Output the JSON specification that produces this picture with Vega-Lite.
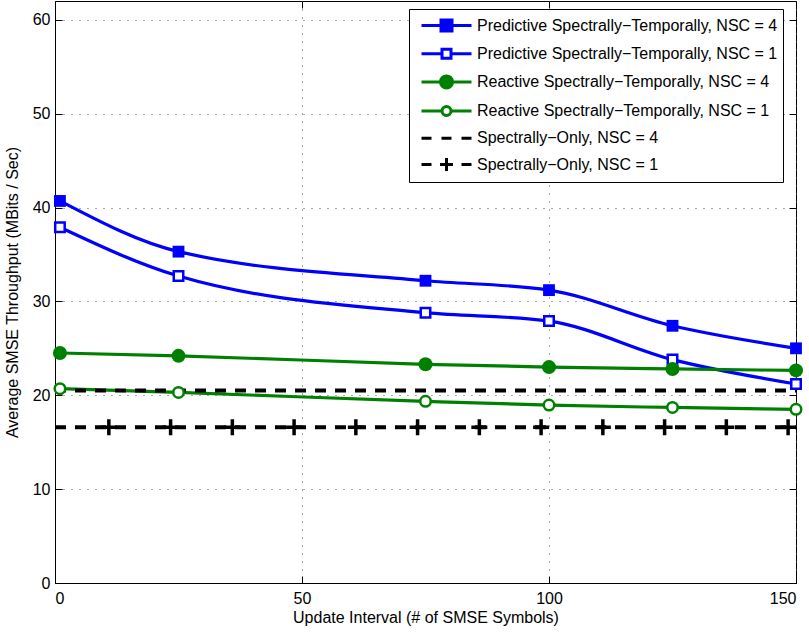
{
  "$schema": "https://vega.github.io/schema/vega-lite/v6.json",
  "width": 741,
  "height": 582,
  "autosize": {"type": "none"},
  "padding": {"left": 55, "top": 1, "right": 13, "bottom": 51},
  "background": "white",
  "config": {
    "font": "Liberation Sans",
    "view": {"stroke": "black", "strokeWidth": 1},
    "axis": {
      "labelFont": "Liberation Sans",
      "titleFont": "Liberation Sans",
      "labelFontSize": 16,
      "titleFontSize": 16,
      "titleFontWeight": "normal",
      "labelColor": "black",
      "titleColor": "black",
      "domainColor": "black",
      "tickColor": "black",
      "tickSize": -7,
      "gridColor": "#555",
      "gridDash": [1, 7],
      "gridWidth": 1
    }
  },
  "datasets": {
    "curves": [
      {"s": "P4", "x": 1, "y": 40.7}, {"s": "P4", "x": 25, "y": 35.3}, {"s": "P4", "x": 75, "y": 32.2},
      {"s": "P4", "x": 100, "y": 31.2}, {"s": "P4", "x": 125, "y": 27.4}, {"s": "P4", "x": 150, "y": 25.0},
      {"s": "P1", "x": 1, "y": 37.9}, {"s": "P1", "x": 25, "y": 32.7}, {"s": "P1", "x": 75, "y": 28.8},
      {"s": "P1", "x": 100, "y": 27.9}, {"s": "P1", "x": 125, "y": 23.8}, {"s": "P1", "x": 150, "y": 21.2},
      {"s": "R4", "x": 1, "y": 24.5}, {"s": "R4", "x": 25, "y": 24.2}, {"s": "R4", "x": 75, "y": 23.3},
      {"s": "R4", "x": 100, "y": 23.0}, {"s": "R4", "x": 125, "y": 22.8}, {"s": "R4", "x": 150, "y": 22.65},
      {"s": "R1", "x": 1, "y": 20.7}, {"s": "R1", "x": 25, "y": 20.3}, {"s": "R1", "x": 75, "y": 19.35},
      {"s": "R1", "x": 100, "y": 18.95}, {"s": "R1", "x": 125, "y": 18.7}, {"s": "R1", "x": 150, "y": 18.5}
    ],
    "flat": [
      {"s": "S4", "x": 0, "y": 20.5}, {"s": "S4", "x": 150, "y": 20.5},
      {"s": "S1", "x": 0, "y": 16.6}, {"s": "S1", "x": 150, "y": 16.6}
    ],
    "crosses": [
      {"s": "S1", "x": 10.9, "y": 16.6}, {"s": "S1", "x": 23.4, "y": 16.6}, {"s": "S1", "x": 35.9, "y": 16.6},
      {"s": "S1", "x": 48.4, "y": 16.6}, {"s": "S1", "x": 60.9, "y": 16.6}, {"s": "S1", "x": 73.4, "y": 16.6},
      {"s": "S1", "x": 85.9, "y": 16.6}, {"s": "S1", "x": 98.4, "y": 16.6}, {"s": "S1", "x": 110.9, "y": 16.6},
      {"s": "S1", "x": 123.4, "y": 16.6}, {"s": "S1", "x": 135.9, "y": 16.6}, {"s": "S1", "x": 148.4, "y": 16.6}
    ]
  },
  "layer": [
    {
      "data": {"name": "curves"},
      "mark": {"type": "line", "interpolate": "monotone", "strokeWidth": 3.2},
      "encoding": {
        "x": {"field": "x", "type": "quantitative", "scale": {"domain": [0, 150], "nice": false},
              "axis": {"values": [0, 50, 100, 150], "title": "Update Interval (# of SMSE Symbols)", "labelPadding": 14, "titlePadding": 3, "grid": true}},
        "y": {"field": "y", "type": "quantitative", "scale": {"domain": [0, 62], "nice": false, "zero": false},
              "axis": {"values": [0, 10, 20, 30, 40, 50, 60], "title": "Average SMSE Throughput (MBits / Sec)", "labelPadding": 12, "titlePadding": 12, "grid": true}},
        "color": {
          "field": "s", "type": "nominal",
          "scale": {"domain": ["P4", "P1", "R4", "R1", "S4", "S1"], "range": ["#0000ff", "#0000ff", "#008000", "#008000", "#000000", "#000000"]},
          "legend": {
            "title": null,
            "orient": "none",
            "legendX": 354,
            "legendY": 8,
            "direction": "vertical",
            "strokeColor": "black",
            "fillColor": "white",
            "padding": 5,
            "rowPadding": 5.2,
            "symbolSize": 400,
            "symbolOffset": 21,
            "labelOffset": 19,
            "labelFont": "Liberation Sans",
            "labelFontSize": 16,
            "labelColor": "black",
            "labelLimit": 0,
            "labelExpr": "datum.value == 'P4' ? 'Predictive Spectrally−Temporally, NSC = 4' : datum.value == 'P1' ? 'Predictive Spectrally−Temporally, NSC = 1' : datum.value == 'R4' ? 'Reactive Spectrally−Temporally, NSC = 4' : datum.value == 'R1' ? 'Reactive Spectrally−Temporally, NSC = 1' : datum.value == 'S4' ? 'Spectrally−Only, NSC = 4' : 'Spectrally−Only, NSC = 1'",
            "encode": {
              "symbols": {
                "update": {
                  "shape": {"signal": "datum.value == 'P4' ? 'M-2.5,0L-0.55,0M0.55,0L2.5,0M-0.55,-0.55L0.55,-0.55L0.55,0.55L-0.55,0.55Z' : datum.value == 'P1' ? 'M-2.5,0L-0.45,0M0.45,0L2.5,0M-0.45,-0.45L0.45,-0.45L0.45,0.45L-0.45,0.45Z' : datum.value == 'R4' ? 'M-2.5,0L-0.6,0M0.6,0L2.5,0M0.6,0C0.6,0.3314,0.3314,0.6,0,0.6C-0.3314,0.6,-0.6,0.3314,-0.6,0C-0.6,-0.3314,-0.3314,-0.6,0,-0.6C0.3314,-0.6,0.6,-0.3314,0.6,0Z' : datum.value == 'R1' ? 'M-2.5,0L-0.45,0M0.45,0L2.5,0M0.45,0C0.45,0.2485,0.2485,0.45,0,0.45C-0.2485,0.45,-0.45,0.2485,-0.45,0C-0.45,-0.2485,-0.2485,-0.45,0,-0.45C0.2485,-0.45,0.45,-0.2485,0.45,0Z' : datum.value == 'S4' ? 'M-2.5,0L-1.5,0M-0.5,0L0.5,0M1.5,0L2.5,0' : 'M-2.5,0L-1.5,0M-0.65,0L0.65,0M0,-0.65L0,0.65M1.5,0L2.5,0'"},
                  "fill": {"signal": "datum.value == 'P4' ? '#0000ff' : datum.value == 'R4' ? '#008000' : 'white'"},
                  "fillOpacity": {"signal": "datum.value == 'P4' || datum.value == 'R4' ? 1 : 0"},
                  "stroke": {"signal": "datum.value == 'P4' || datum.value == 'P1' ? '#0000ff' : datum.value == 'R4' || datum.value == 'R1' ? '#008000' : 'black'"},
                  "strokeWidth": {"value": 3},
                  "strokeDash": {"value": []},
                  "size": {"value": 400},
                  "opacity": {"value": 1}
                }
              }
            }
          }
        }
      }
    },
    {
      "data": {"name": "flat"},
      "mark": {"type": "line", "strokeWidth": 4, "strokeDash": [11, 9]},
      "encoding": {
        "x": {"field": "x", "type": "quantitative",
              "axis": {"orient": "top", "values": [0, 50, 100, 150], "labels": false, "title": null, "grid": false, "domain": false}},
        "y": {"field": "y", "type": "quantitative",
              "axis": {"orient": "right", "values": [0, 10, 20, 30, 40, 50, 60], "labels": false, "title": null, "grid": false, "domain": false}},
        "color": {"field": "s", "type": "nominal"}
      }
    },
    {
      "data": {"name": "curves"},
      "transform": [{"filter": "datum.s == 'P4'"}],
      "mark": {"type": "point", "shape": "square", "filled": true, "size": 140, "opacity": 1},
      "encoding": {
        "x": {"field": "x", "type": "quantitative", "axis": null},
        "y": {"field": "y", "type": "quantitative", "axis": null},
        "color": {"field": "s", "type": "nominal"}
      }
    },
    {
      "data": {"name": "curves"},
      "transform": [{"filter": "datum.s == 'P1'"}],
      "mark": {"type": "point", "shape": "square", "filled": false, "fill": "white", "size": 90, "strokeWidth": 2.5, "opacity": 1},
      "encoding": {
        "x": {"field": "x", "type": "quantitative", "axis": null},
        "y": {"field": "y", "type": "quantitative", "axis": null},
        "color": {"field": "s", "type": "nominal"}
      }
    },
    {
      "data": {"name": "curves"},
      "transform": [{"filter": "datum.s == 'R4'"}],
      "mark": {"type": "point", "shape": "circle", "filled": true, "size": 196, "opacity": 1},
      "encoding": {
        "x": {"field": "x", "type": "quantitative", "axis": null},
        "y": {"field": "y", "type": "quantitative", "axis": null},
        "color": {"field": "s", "type": "nominal"}
      }
    },
    {
      "data": {"name": "curves"},
      "transform": [{"filter": "datum.s == 'R1'"}],
      "mark": {"type": "point", "shape": "circle", "filled": false, "fill": "white", "size": 110, "strokeWidth": 2.5, "opacity": 1},
      "encoding": {
        "x": {"field": "x", "type": "quantitative", "axis": null},
        "y": {"field": "y", "type": "quantitative", "axis": null},
        "color": {"field": "s", "type": "nominal"}
      }
    },
    {
      "data": {"name": "crosses"},
      "mark": {"type": "point", "shape": "M-1,0L1,0M0,-1L0,1", "filled": false, "size": 256, "strokeWidth": 3.5, "opacity": 1},
      "encoding": {
        "x": {"field": "x", "type": "quantitative", "axis": null},
        "y": {"field": "y", "type": "quantitative", "axis": null},
        "color": {"field": "s", "type": "nominal"}
      }
    }
  ],
  "resolve": {"axis": {"x": "independent", "y": "independent"}}
}
